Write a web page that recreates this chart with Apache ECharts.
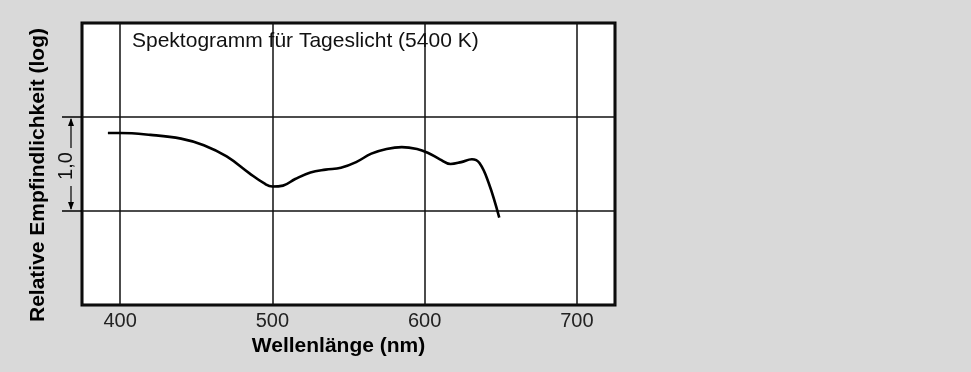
<!DOCTYPE html>
<html>
<head>
<meta charset="utf-8">
<script src="https://cdn.jsdelivr.net/npm/echarts@6/dist/echarts.min.js"></script>
<style>
html,body{margin:0;padding:0;background:#d9d9d9;}
#c{width:971px;height:372px;}
</style>
</head>
<body>
<div id="c"></div>
<script>
// Wavelength (nm) and relative sensitivity (log units)
const wavelengths = [392, 400, 420, 440, 455, 470, 485, 495, 500, 507, 515, 525, 535, 545, 555, 565, 575, 585, 595, 602, 610, 617, 624, 631, 636, 642, 649];
const sensitivity = [1.83, 1.83, 1.81, 1.77, 1.70, 1.58, 1.40, 1.29, 1.26, 1.27, 1.34, 1.41, 1.44, 1.46, 1.52, 1.61, 1.66, 1.68, 1.66, 1.62, 1.55, 1.50, 1.52, 1.55, 1.51, 1.30, 0.93];
const xTicks = [400, 500, 600, 700];
const chartTitle = 'Spektogramm für Tageslicht (5400 K)';
const xName = 'Wellenlänge (nm)';
const yName = 'Relative Empfindlichkeit (log)';
const decadeLabel = '1,0';
const decadeLow = 1, decadeHigh = 2;

const chart = echarts.init(document.getElementById('c'), null, {renderer: 'canvas'});
const font = '"Liberation Sans", Arial, Helvetica, sans-serif';

chart.setOption({
  backgroundColor: '#d9d9d9',
  animation: false,
  title: {
    text: chartTitle,
    left: 132, top: 31, padding: 0,
    textStyle: {fontFamily: font, fontSize: 21, fontWeight: 'normal', color: '#111'}
  },
  grid: {
    left: 82, right: 356, top: 23, bottom: 67,
    show: true, backgroundColor: '#ffffff', borderColor: '#000', borderWidth: 3
  },
  xAxis: {
    type: 'value', min: 375, max: 725,
    name: xName, nameLocation: 'middle', nameGap: 31,
    nameTextStyle: {fontFamily: font, fontSize: 21, fontWeight: 'bold', color: '#000', padding: [0, 20, 0, 0]},
    axisLine: {show: false}, axisTick: {show: false},
    axisLabel: {
      fontFamily: font, fontSize: 20, color: '#222', margin: 6,
      showMinLabel: false, showMaxLabel: false,
      formatter: v => xTicks.includes(v) ? String(v) : ''
    },
    splitLine: {show: true, lineStyle: {color: '#111', width: 1.5}}
  },
  yAxis: {
    type: 'value', min: 0, max: 3, interval: 1,
    name: yName, nameLocation: 'middle', nameGap: 33,
    nameTextStyle: {fontFamily: font, fontSize: 21, fontWeight: 'bold', color: '#000', padding: [0, 22, 0, 0]},
    axisLine: {show: false}, axisTick: {show: false}, axisLabel: {show: false},
    splitLine: {show: true, lineStyle: {color: '#111', width: 1.5}}
  },
  series: [{
    type: 'line',
    data: wavelengths.map((w, i) => [w, sensitivity[i]]),
    smooth: 0.4, showSymbol: false,
    lineStyle: {color: '#000', width: 2.6}
  }]
});

// Decade bracket annotation left of the frame, positioned through the y axis scale
const yHi = chart.convertToPixel({yAxisIndex: 0}, decadeHigh);
const yLo = chart.convertToPixel({yAxisIndex: 0}, decadeLow);
const left = chart.convertToPixel({xAxisIndex: 0}, 375);
const ax = left - 11;
const mid = (yHi + yLo) / 2;
chart.setOption({
  graphic: [
    {type: 'line', shape: {x1: left - 20, y1: yHi, x2: left, y2: yHi}, style: {stroke: '#000', lineWidth: 1.5}},
    {type: 'line', shape: {x1: left - 20, y1: yLo, x2: left, y2: yLo}, style: {stroke: '#000', lineWidth: 1.5}},
    {type: 'line', shape: {x1: ax, y1: mid - 16, x2: ax, y2: yHi + 2}, style: {stroke: '#000', lineWidth: 1.2}},
    {type: 'polygon', shape: {points: [[ax - 3, yHi + 9], [ax + 3, yHi + 9], [ax, yHi + 1]]}, style: {fill: '#000'}},
    {type: 'line', shape: {x1: ax, y1: mid + 22, x2: ax, y2: yLo - 2}, style: {stroke: '#000', lineWidth: 1.2}},
    {type: 'polygon', shape: {points: [[ax - 3, yLo - 9], [ax + 3, yLo - 9], [ax, yLo - 1]]}, style: {fill: '#000'}},
    {type: 'text', x: ax - 5, y: mid + 2, rotation: Math.PI / 2,
     style: {text: decadeLabel, font: '20px ' + font, fill: '#111', align: 'center', verticalAlign: 'middle'}}
  ]
});
</script>
</body>
</html>
